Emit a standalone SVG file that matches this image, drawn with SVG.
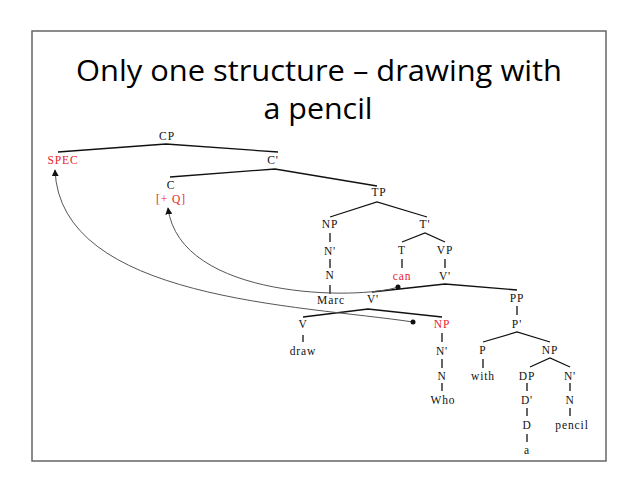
<svg xmlns="http://www.w3.org/2000/svg" width="638" height="493" viewBox="0 0 638 493">
<defs>
<style>
.t{font-family:"Liberation Serif","Times New Roman",serif;font-size:11.5px;text-anchor:middle;fill:#111;letter-spacing:0.9px}
.r{fill:#e8242a}
.e{stroke:#111;stroke-width:1.3;fill:none}
.m{stroke:#555;stroke-width:1;fill:none;marker-end:url(#ah)}
.title{font-family:"Open Sans","Liberation Sans",sans-serif;font-size:29px;text-anchor:middle;fill:#000}
</style>
<marker id="ah" viewBox="0 0 10 10" refX="9" refY="5" markerWidth="7" markerHeight="7" orient="auto" markerUnits="userSpaceOnUse">
<path d="M0,0 L10,5 L0,10 z" fill="#111"/>
</marker>
</defs>
<rect x="0" y="0" width="638" height="493" fill="#fff"/>
<rect x="32" y="31" width="574" height="430" fill="#fff" stroke="#666" stroke-width="1.5"/>
<g id="title">
<text class="title" x="319" y="81" textLength="486" lengthAdjust="spacingAndGlyphs">Only one structure – drawing with</text>
<text class="title" x="318" y="119" textLength="109" lengthAdjust="spacingAndGlyphs">a pencil</text>
</g>
<g id="edges">
<polyline class="e" points="58,152 166,144 278,152"/>
<polyline class="e" points="170,177 275,169 377,186"/>
<polyline class="e" points="330,217 377,202 427,217"/>
<line class="e" x1="330" y1="233" x2="330" y2="242"/>
<line class="e" x1="330" y1="259" x2="330" y2="268"/>
<line class="e" x1="330" y1="285" x2="330" y2="294"/>
<polyline class="e" points="402,242 425,233 445,242"/>
<line class="e" x1="402" y1="259" x2="402" y2="268"/>
<line class="e" x1="445" y1="259" x2="445" y2="268"/>
<polyline class="e" points="372,292 445,284 517,290"/>
<polyline class="e" points="303,317 368,309 442,317"/>
<line class="e" x1="303" y1="335" x2="303" y2="342"/>
<line class="e" x1="442" y1="333" x2="442" y2="342"/>
<line class="e" x1="442" y1="359" x2="442" y2="368"/>
<line class="e" x1="442" y1="383" x2="442" y2="391"/>
<line class="e" x1="517" y1="306" x2="517" y2="315"/>
<polyline class="e" points="483,342 517,332 550,342"/>
<line class="e" x1="483" y1="359" x2="483" y2="368"/>
<polyline class="e" points="530,367 550,358 570,367"/>
<line class="e" x1="527" y1="383" x2="527" y2="391"/>
<line class="e" x1="527" y1="408" x2="527" y2="416"/>
<line class="e" x1="527" y1="434" x2="527" y2="442"/>
<line class="e" x1="570" y1="383" x2="570" y2="391"/>
<line class="e" x1="570" y1="408" x2="570" y2="416"/>
<path class="m" d="M413,322 C300,305 60,300 55,170"/>
<path class="m" d="M398,287 C360,300 180,300 168,208"/>
<circle cx="398" cy="287" r="2.5" fill="#111"/>
<circle cx="413" cy="322" r="2.5" fill="#111"/>
</g>
<g id="n-cp"><text class="t" x="167" y="140">CP</text></g>
<g id="n-spec"><text class="t r" x="63" y="164">SPEC</text></g>
<g id="n-cbar"><text class="t" x="273" y="164">C'</text></g>
<g id="n-c"><text class="t" x="171" y="189">C</text></g>
<g id="n-q"><text class="t r" x="171" y="203">[+ Q]</text></g>
<g id="n-tp"><text class="t" x="379" y="196">TP</text></g>
<g id="n-np1"><text class="t" x="330" y="228">NP</text></g>
<g id="n-tbar"><text class="t" x="425" y="228">T'</text></g>
<g id="n-nbar1"><text class="t" x="330" y="255">N'</text></g>
<g id="n-t"><text class="t" x="402" y="254">T</text></g>
<g id="n-vp"><text class="t" x="445" y="254">VP</text></g>
<g id="n-n1"><text class="t" x="330" y="279">N</text></g>
<g id="n-can"><text class="t r" x="402" y="280">can</text></g>
<g id="n-vbar1"><text class="t" x="445" y="280">V'</text></g>
<g id="n-marc"><text class="t" x="331" y="304">Marc</text></g>
<g id="n-vbar2"><text class="t" x="373" y="303">V'</text></g>
<g id="n-pp"><text class="t" x="517" y="302">PP</text></g>
<g id="n-v"><text class="t" x="303" y="328">V</text></g>
<g id="n-np2"><text class="t r" x="442" y="328">NP</text></g>
<g id="n-pbar"><text class="t" x="517" y="328">P'</text></g>
<g id="n-draw"><text class="t" x="303" y="355">draw</text></g>
<g id="n-nbar2"><text class="t" x="442" y="355">N'</text></g>
<g id="n-p"><text class="t" x="483" y="354">P</text></g>
<g id="n-np3"><text class="t" x="550" y="354">NP</text></g>
<g id="n-n2"><text class="t" x="442" y="380">N</text></g>
<g id="n-with"><text class="t" x="483" y="380">with</text></g>
<g id="n-dp"><text class="t" x="527" y="380">DP</text></g>
<g id="n-nbar3"><text class="t" x="570" y="380">N'</text></g>
<g id="n-who"><text class="t" x="443" y="404">Who</text></g>
<g id="n-dbar"><text class="t" x="527" y="404">D'</text></g>
<g id="n-n3"><text class="t" x="570" y="404">N</text></g>
<g id="n-d"><text class="t" x="527" y="429">D</text></g>
<g id="n-pencil"><text class="t" x="572" y="429">pencil</text></g>
<g id="n-a"><text class="t" x="527" y="454">a</text></g>
</svg>
